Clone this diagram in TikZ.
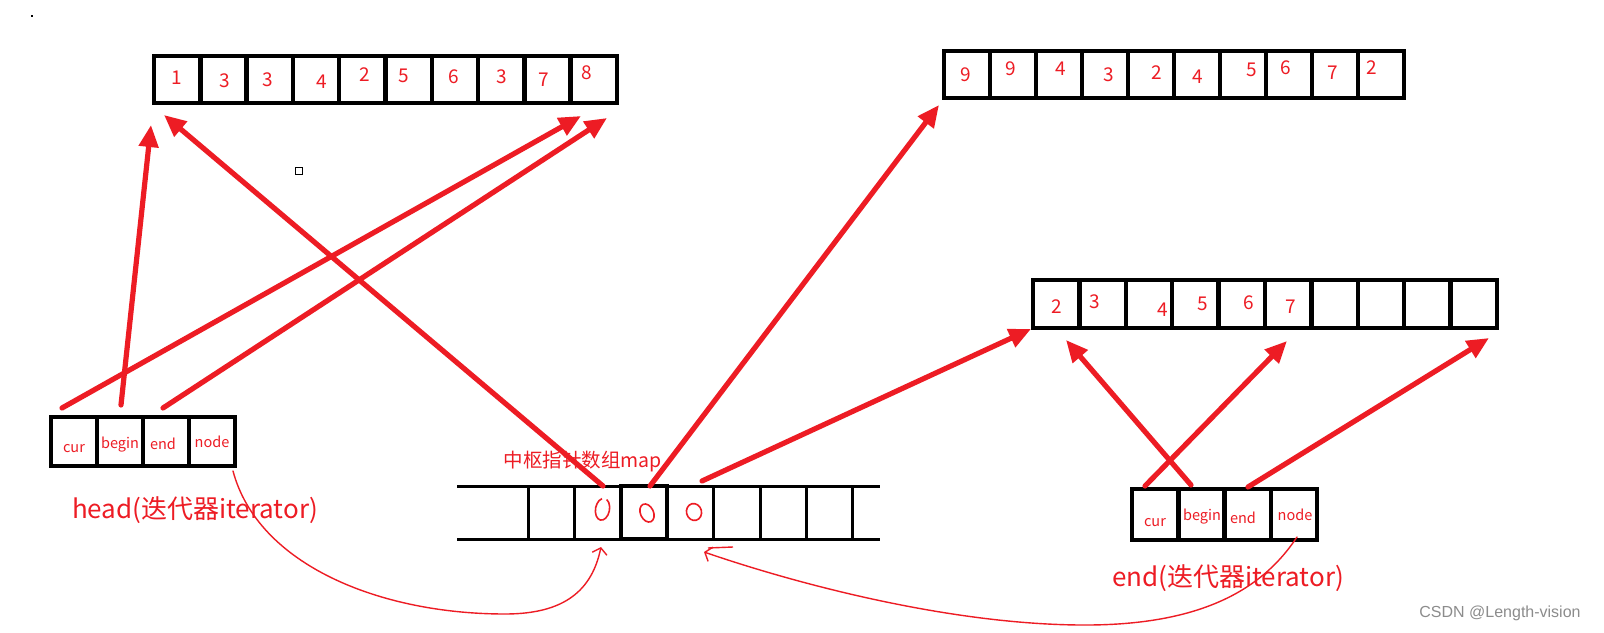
\documentclass[tikz,border=0pt]{standalone}
\usepackage{fontspec}
\setmainfont{Noto Sans CJK SC}
\newfontfamily\wmfont{Liberation Sans}
\usetikzlibrary{arrows.meta}
\definecolor{pred}{HTML}{ED1C24}
\begin{document}
\begin{tikzpicture}[x=1pt,y=-1pt,
  cellbox/.style={draw=black, line width=4.5pt, minimum width=#1, minimum height=47pt, inner sep=0pt, outer sep=0pt},
  itbox/.style={draw=black, line width=4.5pt, minimum width=46pt, minimum height=#1, inner sep=0pt, outer sep=0pt},
  mapcell/.style={draw=black, line width=3pt, minimum width=46.4pt, minimum height=53pt, inner sep=0pt, outer sep=0pt},
  digit/.style={text=pred, inner sep=0pt, font=\fontsize{19}{22}\selectfont},
  itlabel/.style={text=pred, inner sep=0pt, font=\fontsize{14.5}{16}\selectfont},
  biglabel/.style={text=pred, inner sep=0pt, font=\fontsize{26}{29}\selectfont},
  ptr/.style={draw=pred, line width=5.2pt, line cap=round, -{Triangle[length=22pt,width=19pt]}},
  thinptr/.style={draw=pred, line width=1.4pt, line cap=round, -{Straight Barb[length=6pt,width=15pt]}},
  zero/.style={draw=pred, line width=1.6pt}]
\useasboundingbox (0,0) rectangle (1604,632);
\fill[white] (0,0) rectangle (1604,632);

% stray marks
\fill[black] (31,15) rectangle (33,17);
\node[draw=black, line width=1.5pt, minimum size=7pt, inner sep=0pt] (sq) at (299,171) {};

% top-left array
\foreach \i in {1,...,10} {
  \node[cellbox=46.3pt] (tl\i) at ({154+46.3*(\i-0.5)},79.5) {};
}
\foreach \i/\n/\px/\py in {1/1/177/78, 2/3/225/81, 3/3/268/80, 4/4/322/82, 5/2/365/75, 6/5/404/76, 7/6/454/77, 8/3/502/77, 9/7/544/80, 10/8/587/73} {
  \node[digit] (tln\i) at (\px,\py) {\n};
}

% top-right array
\foreach \i in {1,...,10} {
  \node[cellbox=46pt] (tr\i) at ({944+46*(\i-0.5)},74.5) {};
}
\foreach \i/\n/\px/\py in {1/9/966/75, 2/9/1011/69, 3/4/1061/69, 4/3/1109/75, 5/2/1157/73, 6/4/1198/77, 7/5/1252/70, 8/6/1286/68, 9/7/1333/73, 10/2/1372/68} {
  \node[digit] (trn\i) at (\px,\py) {\n};
}

% middle-right array
\foreach \i in {1,...,10} {
  \node[cellbox=46.4pt, minimum height=48pt] (mr\i) at ({1033+46.4*(\i-0.5)},304) {};
}
\foreach \i/\n/\px/\py in {1/2/1057/307, 2/3/1095/302, 3/4/1163/310, 4/5/1203/304, 5/6/1249/303, 6/7/1291/307} {
  \node[digit] (mrn\i) at (\px,\py) {\n};
}

% head iterator
\foreach \i in {1,...,4} {
  \node[itbox=49pt] (h\i) at ({51+46*(\i-0.5)},441.5) {};
}
\node[itlabel] (hl1) at (74,449) {cur};
\node[itlabel] (hl2) at (120,445) {begin};
\node[itlabel] (hl3) at (163,444) {end};
\node[itlabel] (hl4) at (212,442) {node};
\node[biglabel] (headlab) at (195,510) {head(迭代器iterator)};

% end iterator
\foreach \i in {1,...,4} {
  \node[itbox=51pt, minimum width=46.25pt] (e\i) at ({1132+46.25*(\i-0.5)},514.5) {};
}
\node[itlabel] (el1) at (1155,523) {cur};
\node[itlabel] (el2) at (1202,517) {begin};
\node[itlabel] (el3) at (1243,518) {end};
\node[itlabel] (el4) at (1295,515) {node};
\node[biglabel] (endlab) at (1228,578) {end(迭代器iterator)};

% map
\foreach \i in {1,...,7} {
  \node[mapcell] (m\i) at ({528+46.4*(\i-0.5)},512.5) {};
}
\draw[black, line width=4pt] (m3.north west) rectangle (m3.south east);
\draw[black, line width=3pt] (457,486) -- (m1.north west);
\draw[black, line width=3pt] (457,539) -- (m1.south west);
\draw[black, line width=3pt] (m7.north east) -- (880,486);
\draw[black, line width=3pt] (m7.south east) -- (880,539);
\node[text=pred, inner sep=0pt, font=\fontsize{19.5}{22}\selectfont] (maplab) at (583,462) {中枢指针数组map};
\draw[zero, rotate around={-10:(603,510)}] (600,499) arc[start angle=110, end angle=430, x radius=7pt, y radius=11pt];
\draw[zero, rotate around={25:(647,513)}] (647,513) ellipse [x radius=6.5pt, y radius=9.5pt];
\draw[zero, rotate around={15:(694,512)}] (694,512) ellipse [x radius=7.5pt, y radius=8.5pt];

% connector end points
\coordinate (hc) at (62,408);
\coordinate (hbg) at (121,405);
\coordinate (hen) at (163,408);
\coordinate (ma) at (603,486);
\coordinate (mb) at (650,486);
\coordinate (mc) at (702,481);
\coordinate (ec) at (1145,486);
\coordinate (ebg) at (1191,485);
\coordinate (een) at (1248,487);
\coordinate (t1) at (151,125);
\coordinate (t2) at (581,116);
\coordinate (t3) at (607,118);
\coordinate (t4) at (164,115);
\coordinate (t5) at (939,105);
\coordinate (t6) at (1031,329);
\coordinate (t7) at (1287,341);
\coordinate (t8) at (1066,340);
\coordinate (t9) at (1489,338);
\coordinate (hnb) at (233,471);
\coordinate (mina) at (601,547);
\coordinate (enb) at (1297,537);
\coordinate (minb) at (704,552);

% pointer arrows
\draw[ptr] (hbg) -- (t1);
\draw[ptr] (hc) -- (t2);
\draw[ptr] (hen) -- (t3);
\draw[ptr] (ma) -- (t4);
\draw[ptr] (mb) -- (t5);
\draw[ptr] (mc) -- (t6);
\draw[ptr] (ec) -- (t7);
\draw[ptr] (ebg) -- (t8);
\draw[ptr] (een) -- (t9);

% node links
\draw[thinptr] (hnb) .. controls (258,565) and (380,614) .. (505,614) .. controls (565,614) and (592,590) .. (mina);
\draw[thinptr] (enb) .. controls (1262,590) and (1200,626) .. (1080,625) .. controls (950,624) and (800,585) .. (minb);
\draw[draw=pred, line width=1.4pt] (708,548) -- (733,547);

% watermark
\node[font=\wmfont\fontsize{16}{18}\selectfont, text=black!45, inner sep=0pt] (wm) at (1500,613) {CSDN @Length-vision};
\end{tikzpicture}
\end{document}
